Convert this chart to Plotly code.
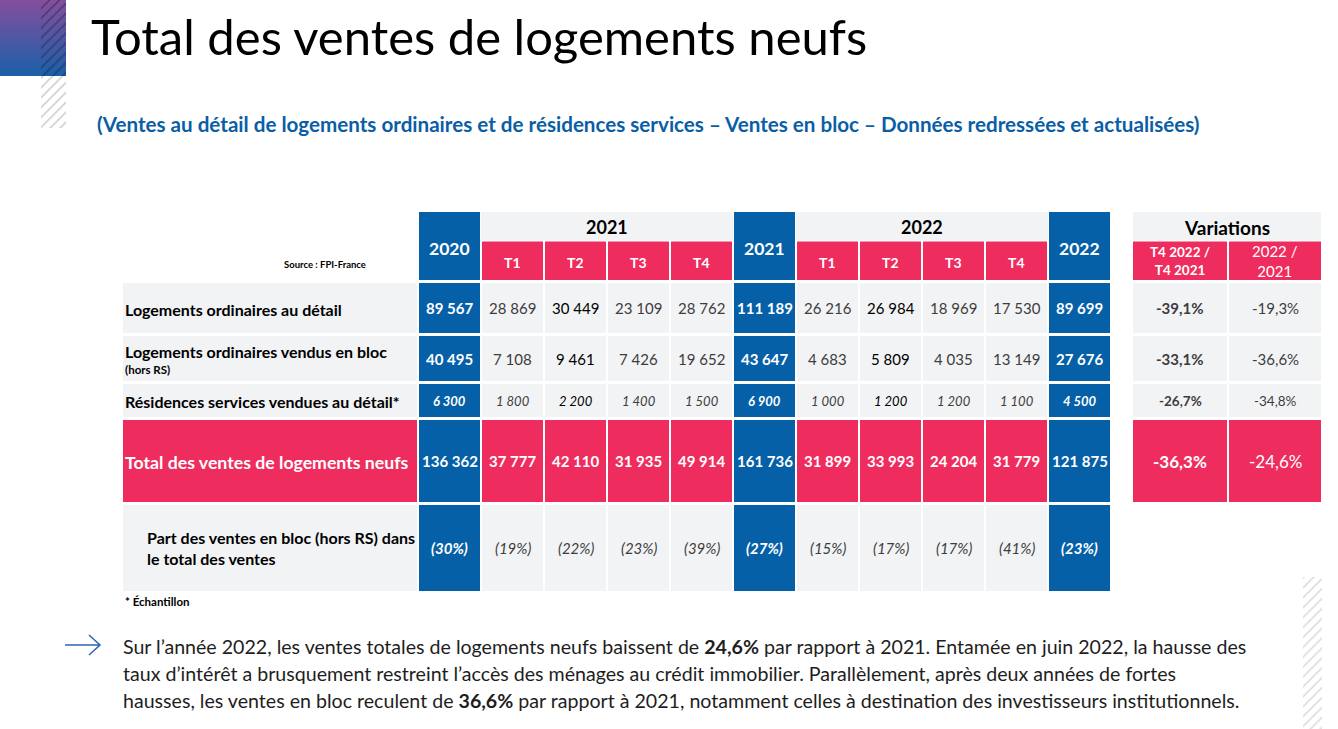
import plotly.graph_objects as go

# ---------------- data ----------------
col_labels = ["2020", "T1", "T2", "T3", "T4", "2021", "T1", "T2", "T3", "T4", "2022"]
col_is_year = [True, False, False, False, False, True, False, False, False, False, True]
groups = ["2021", "2022"]
row_labels = ["Logements ordinaires au détail",
              "Logements ordinaires vendus en bloc",
              "Résidences services vendues au détail*",
              "Total des ventes de logements neufs",
              "Part des ventes en bloc (hors RS) dans<br>le total des ventes"]
detail_ord = [89567, 28869, 30449, 23109, 28762, 111189, 26216, 26984, 18969, 17530, 89699]
bloc_ord = [40495, 7108, 9461, 7426, 19652, 43647, 4683, 5809, 4035, 13149, 27676]
res_services = [6300, 1800, 2200, 1400, 1500, 6900, 1000, 1200, 1200, 1100, 4500]
total_ventes = [136362, 37777, 42110, 31935, 49914, 161736, 31899, 33993, 24204, 31779, 121875]
part_bloc = [30, 19, 22, 23, 39, 27, 15, 17, 17, 41, 23]
var_headers = ["T4 2022 /<br>T4 2021", "2022 /<br>2021"]
var_t4 = [-39.1, -33.1, -26.7, -36.3]
var_year = [-19.3, -36.6, -34.8, -24.6]

title = "Total des ventes de logements neufs"
subtitle = ("(Ventes au détail de logements ordinaires et de résidences services – Ventes en bloc – "
            "Données redressées et actualisées)")
body_lines = [
    "Sur l’année 2022, les ventes totales de logements neufs baissent de <b>24,6%</b> par rapport à 2021. Entamée en juin 2022, la hausse des",
    "taux d’intérêt a brusquement restreint l’accès des ménages au crédit immobilier. Parallèlement, après deux années de fortes",
    "hausses, les ventes en bloc reculent de <b>36,6%</b> par rapport à 2021, notamment celles à destination des investisseurs institutionnels.",
]

# ---------------- style / layout ----------------
BLUE = "#0560A8"
PINK = "#EE2D5E"
GRAY = "#F2F3F5"
TXT = "#3d3d3d"
FONT = "Lato"
W, H = 1338, 729

X0, PITCH, CW = 419, 63, 61
LAB_X0, LAB_X1 = 123, 417
HDR_TOP, HDR_MID, HDR_BOT = 212, 240.5, 280
ROWS = [(283, 333), (336, 381), (384, 417), (420, 502), (505, 591)]
VAR_COLS = [(1133, 1227), (1229, 1321)]

fig = go.Figure()
shapes = []
ann = []


def rect(x0, y0, x1, y1, color):
    shapes.append(dict(type="rect", xref="x", yref="y", x0=x0, x1=x1, y0=y0, y1=y1,
                       fillcolor=color, line=dict(width=0), layer="below"))


def text(x, y, s, size, color="black", bold=False, italic=False, xanchor="center", family=FONT):
    if bold:
        s = f"<b>{s}</b>"
    if italic:
        s = f"<i>{s}</i>"
    ann.append(dict(x=x, y=y, xref="x", yref="y", text=s, showarrow=False,
                    xanchor=xanchor, yanchor="middle",
                    font=dict(family=family, size=size, color=color)))


def fmt(v):
    return f"{v:,}".replace(",", " ")


def pct(v):
    return f"{v:.1f}%".replace(".", ",")


colx = [X0 + PITCH * i for i in range(len(col_labels))]

# header
for i, lab in enumerate(col_labels):
    x0 = colx[i]
    xc = x0 + CW / 2
    if col_is_year[i]:
        rect(x0, HDR_TOP, x0 + CW, HDR_BOT, BLUE)
        text(xc, 248, lab, 17.5, "white", bold=True)
    else:
        rect(x0, HDR_MID + 1, x0 + CW, HDR_BOT, PINK)
        text(xc, 262, lab, 14, "white", bold=True)
# group bands
for g, (a, b) in zip(groups, [(1, 4), (6, 9)]):
    rect(colx[a] - 1, HDR_TOP, colx[b] + CW + 1, HDR_MID, GRAY)
    text((colx[a] + colx[b] + CW) / 2, 227, g, 18, "black", bold=True)
text(325, 264, "Source : FPI-France", 9.5, "black", bold=True)

# row labels
for r, (y0, y1) in enumerate(ROWS):
    col = PINK if r == 3 else GRAY
    rect(LAB_X0, y0, LAB_X1, y1, col)
text(LAB_X0, 309, row_labels[0], 16, "black", bold=True, xanchor="left")
text(LAB_X0, 351, row_labels[1], 16, "black", bold=True, xanchor="left")
text(LAB_X0, 369, "(hors RS)", 11.5, "black", bold=True, xanchor="left")
text(LAB_X0, 401, row_labels[2], 16, "black", bold=True, xanchor="left")
text(LAB_X0, 462, row_labels[3], 17.7, "white", bold=True, xanchor="left")
ann.append(dict(x=145, y=548, xref="x", yref="y", text=f"<b>{row_labels[4]}</b>", showarrow=False,
                xanchor="left", yanchor="middle", align="left",
                font=dict(family=FONT, size=16, color="black")))
text(LAB_X0, 601, "* Échantillon", 11.5, "black", bold=True, xanchor="left")

# body cells
rows_data = [detail_ord, bloc_ord, res_services, total_ventes, part_bloc]
for r, (y0, y1) in enumerate(ROWS):
    yc = (y0 + y1) / 2
    for i in range(len(col_labels)):
        x0 = colx[i]
        xc = x0 + CW / 2
        yr = col_is_year[i]
        if yr:
            fill = BLUE
        elif r == 3:
            fill = PINK
        else:
            fill = GRAY
        rect(x0, y0, x0 + CW, y1, fill)
        v = rows_data[r][i]
        dark = "black" if col_labels[i] == "T2" else TXT
        if r in (0, 1):
            text(xc, yc, fmt(v), 15, "white" if yr else dark, bold=yr)
        elif r == 2:
            text(xc, yc, fmt(v), 13, "white" if yr else dark, bold=yr, italic=True)
        elif r == 3:
            text(xc, yc, fmt(v), 15, "white", bold=True)
        else:
            text(xc, yc, f"({v}%)", 15, "white" if yr else TXT, bold=yr, italic=True)

# variations
rect(VAR_COLS[0][0], HDR_TOP, VAR_COLS[1][1], HDR_MID, GRAY)
text((VAR_COLS[0][0] + VAR_COLS[1][1]) / 2, 227, "Variations", 19, "black", bold=True)
for j, (a, b) in enumerate(VAR_COLS):
    rect(a, HDR_MID + 1, b, HDR_BOT, PINK)
    ann.append(dict(x=(a + b) / 2, y=261, xref="x", yref="y",
                    text=(f"<b>{var_headers[j]}</b>" if j == 0 else var_headers[j]),
                    showarrow=False, xanchor="center", yanchor="middle", align="center",
                    font=dict(family=FONT, size=13.5 if j == 0 else 15, color="white")))
    vals = var_t4 if j == 0 else var_year
    for r in range(4):
        y0, y1 = ROWS[r]
        rect(a, y0, b, y1, PINK if r == 3 else GRAY)
        size = 13.5 if r == 2 else (17 if r == 3 else 15)
        col = "white" if r == 3 else TXT
        text((a + b) / 2, (y0 + y1) / 2, pct(vals[r]), size, col, bold=(j == 0))

# titles
text(89, 36, title, 49, "black", xanchor="left")
text(95, 124, subtitle, 20.6, "#0a5ea6", bold=True, xanchor="left")
for k, line in enumerate(body_lines):
    text(121, 646 + 27 * k, line, 19.6, "#1e1e1e", xanchor="left")

# arrow
shapes.append(dict(type="path", xref="x", yref="y",
                   path="M 65 645 L 100 645 M 89 635 L 100 645 L 89 655",
                   line=dict(color="#2b66ad", width=1.5)))

# decorations: gradient block + hatches
fig.add_trace(go.Scatter(x=[0, 66, 66, 0, 0], y=[0, 0, 76, 76, 0], mode="lines", fill="toself",
                         line=dict(width=0), hoverinfo="skip", showlegend=False,
                         fillgradient=dict(type="vertical",
                                           colorscale=[[0, "#1a5fa8"], [1, "#844f9d"]])))
for (xa, xb, ya, yb, c) in [(41, 66, 0, 76, "rgba(20,20,40,0.9)"),
                            (41, 66, 76, 128, "#8f8f8f"),
                            (1303, 1322, 577, 729, "#b0b0b0")]:
    fig.add_trace(go.Scatter(x=[xa, xb, xb, xa, xa], y=[ya, ya, yb, yb, ya], mode="lines",
                             fill="toself", fillcolor="rgba(0,0,0,0)", line=dict(width=0),
                             hoverinfo="skip", showlegend=False,
                             fillpattern=dict(shape="/", size=7, solidity=0.2, fgcolor=c,
                                              bgcolor="rgba(0,0,0,0)")))

fig.update_layout(
    width=W, height=H, margin=dict(l=0, r=0, t=0, b=0),
    paper_bgcolor="white", plot_bgcolor="white",
    xaxis=dict(range=[0, W], visible=False, fixedrange=True),
    yaxis=dict(range=[H, 0], visible=False, fixedrange=True),
    shapes=shapes, annotations=ann, showlegend=False,
)
fig.write_html("out.html", config={"displayModeBar": False},
               post_script="document.body.style.margin='0';")
